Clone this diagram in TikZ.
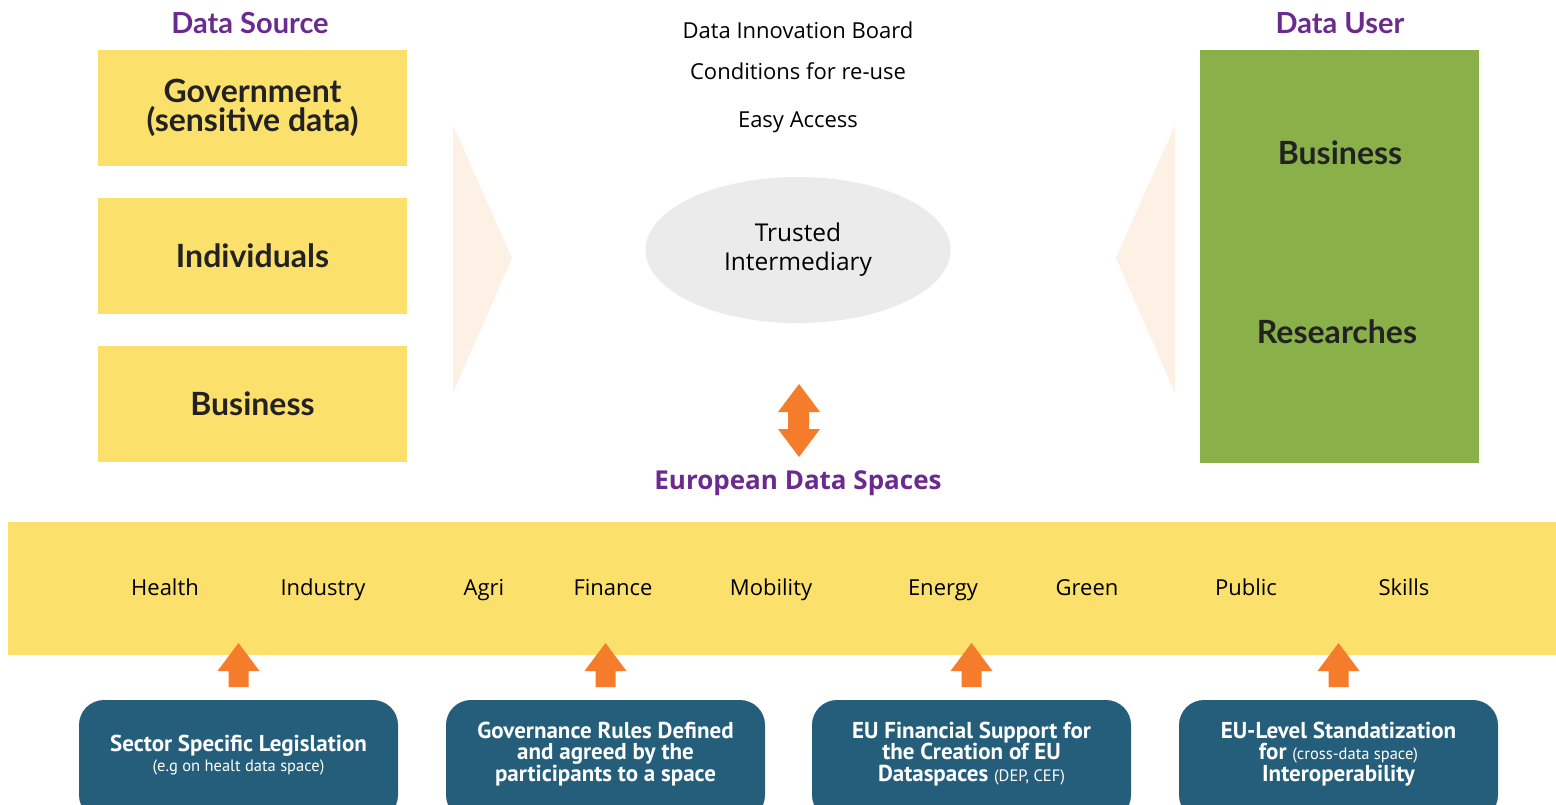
\documentclass[tikz,border=0pt]{standalone}
\usepackage{fontspec}
\setmainfont{Open Sans}
\newfontfamily\geo{Lato}
\newfontfamily\pts{PT Sans}
\usetikzlibrary{shapes.geometric}

\definecolor{srcyellow}{HTML}{FCE06C}
\definecolor{usergreen}{HTML}{8AB04A}
\definecolor{titlepurple}{HTML}{6B2A8E}
\definecolor{chevron}{HTML}{FDF0E4}
\definecolor{trustgray}{HTML}{EBEBEB}
\definecolor{infoblue}{HTML}{245E7B}
\definecolor{arrorange}{HTML}{F57C2B}
\definecolor{txtdark}{HTML}{222222}

\newcommand\smallnote[1]{{\mdseries\fontsize{16.5}{21}\selectfont #1}}

\tikzset{
  title/.style={text=titlepurple, font=\geo\bfseries\fontsize{29}{30}\selectfont},
  srcbox/.style={fill=srcyellow, minimum width=309, minimum height=116, inner sep=0,
    align=center, text=txtdark, font=\geo\bfseries\fontsize{32}{29}\selectfont},
  usertext/.style={text=txtdark, font=\geo\bfseries\fontsize{32}{29}\selectfont},
  board/.style={anchor=base, text=black, font=\fontsize{22}{28}\selectfont},
  sector/.style={anchor=base, text=black, font=\fontsize{22}{26}\selectfont},
  infobox/.style={fill=infoblue, rounded corners=25, minimum width=319, minimum height=120},
  infotext/.style={text=white, align=center, font=\pts\bfseries\fontsize{23}{21.5}\selectfont}
}

\begin{document}
\begin{tikzpicture}[x=1pt,y=-1pt]
  \useasboundingbox (0,0) rectangle (1556,804);
  \clip (0,0) rectangle (1556,804);

  % data source
  \node[title] (srctitle) at (250,23) {Data Source};
  \node[srcbox] (gov) at (252.5,108) {Government\\(sensitive data)};
  \node[srcbox] (indiv) at (252.5,256) {Individuals};
  \node[srcbox] (busi) at (252.5,404) {Business};
  \fill[chevron] (453,125) -- (512,258) -- (453,393) -- cycle;

  % data user
  \node[title] (usertitle) at (1340,23) {Data User};
  \node[fill=usergreen, minimum width=279, minimum height=413, inner sep=0] (users) at (1339.5,256.5) {};
  \node[usertext] (ubusi) at (1340,153) {Business};
  \node[usertext] (resea) at (1337,332) {Researches};
  \fill[chevron] (1175,125) -- (1116,258) -- (1175,393) -- cycle;

  % intermediary
  \node[board] (dib) at (798,38) {Data Innovation Board};
  \node[board] (reuse) at (798,79) {Conditions for re-use};
  \node[board] (access) at (798,127) {Easy Access};
  \node[ellipse, fill=trustgray, minimum width=305, minimum height=146, align=center,
    font=\fontsize{24.5}{29}\selectfont] (trust) at (798,250) {Trusted\\Intermediary};
  \fill[arrorange] (799,384) -- (820,412) -- (809,412) -- (809,429) -- (820,429) -- (799,457)
    -- (778,429) -- (788,429) -- (788,412) -- (778,412) -- cycle;

  % data spaces
  \node[text=titlepurple, font=\bfseries\fontsize{26}{30}\selectfont] (eds) at (798,483) {European Data Spaces};
  \fill[srcyellow] (8,522) rectangle (1556,655);
  \foreach \name/\x in {Health/165,Industry/323,Agri/484,Finance/613,Mobility/771,
      Energy/943,Green/1087,Public/1246,Skills/1404}
    \node[sector] (\name) at (\x,595) {\name};

  \foreach \x in {238.5,605.5,971.5,1338.5}
    \fill[arrorange] (\x,643) -- ++(21,28) -- ++(-11,0) -- ++(0,16) -- ++(-20,0)
      -- ++(0,-16) -- ++(-11,0) -- cycle;

  % support boxes
  \node[infobox] (legis) at (238.5,760) {};
  \node[infobox] (rules) at (605.5,760) {};
  \node[infobox] (funds) at (971.5,760) {};
  \node[infobox] (stand) at (1338.5,760) {};
  \node[infotext] at ([yshift=5]legis) {Sector Specific Legislation\\[-2pt]\smallnote{(e.g on healt data space)}};
  \node[infotext] at ([yshift=6]rules) {Governance Rules Defined\\and agreed by the\\participants to a space};
  \node[infotext] at ([yshift=6]funds) {EU Financial Support for\\the Creation of EU\\Dataspaces \smallnote{(DEP, CEF)}};
  \node[infotext] at ([yshift=6]stand) {EU-Level Standatization\\for \smallnote{(cross-data space)}\\Interoperability};
\end{tikzpicture}
\end{document}
